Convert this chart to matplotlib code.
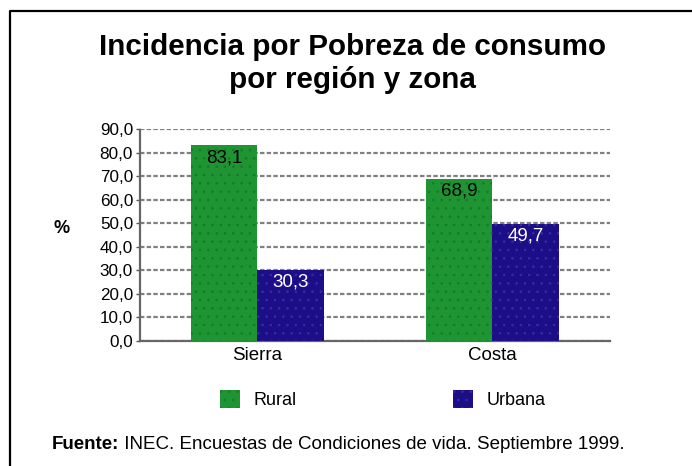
import numpy as np
import matplotlib.pyplot as plt
from matplotlib.lines import Line2D

plt.rcParams['font.family'] = ['Liberation Sans', 'DejaVu Sans']
plt.rcParams['hatch.linewidth'] = 0.6

# Datos
regiones = ["Sierra", "Costa"]
rural = [83.1, 68.9]
urbana = [30.3, 49.7]
series = ["Rural", "Urbana"]
yticks = np.arange(0, 100, 10)

verde = "#1f9433"
azul = "#1c0e86"

fig = plt.figure(figsize=(6.92, 4.66), dpi=100)
ax = fig.add_axes([0.2023, 0.2682, 0.6792, 0.455])

x = np.arange(len(regiones))
w = 0.285
b1 = ax.bar(x - w / 2, rural, w, color=verde, edgecolor="#167a28", linewidth=0,
            hatch="..", label=series[0], zorder=3)
b2 = ax.bar(x + w / 2, urbana, w, color=azul, edgecolor="#3a2aa8", linewidth=0,
            hatch="..", label=series[1], zorder=3)

# etiquetas de valores
for xi, v in zip(x - w / 2, rural):
    ax.text(xi, v - 5.3, f"{v:.1f}".replace(".", ","), ha="center", va="center",
            fontsize=13.5, color="black", zorder=4)
for xi, v in zip(x + w / 2, urbana):
    ax.text(xi, v - 5.3, f"{v:.1f}".replace(".", ","), ha="center", va="center",
            fontsize=13.5, color="white", zorder=4)

ax.set_xlim(-0.5, 1.5)
ax.set_ylim(0, 90)
ax.set_yticks(yticks)
ax.set_yticklabels([f"{t:.1f}".replace(".", ",") for t in yticks], fontsize=12.3)
ax.set_xticks(x)
ax.set_xticklabels(regiones, fontsize=13.5)
ax.tick_params(axis="x", length=0, pad=4)
ax.tick_params(axis="y", length=3, width=1, color="#555555", pad=2)

ax.yaxis.grid(True, color="#808080", linestyle=(0, (2, 1)), linewidth=1.6, zorder=0)
for s in ["top", "right"]:
    ax.spines[s].set_visible(False)
for s in ["left", "bottom"]:
    ax.spines[s].set_color("#666666")
    ax.spines[s].set_linewidth(1.6)
    ax.spines[s].set_linestyle((0, (2, 1)))

# Titulo
fig.text(0.509, 0.899, "Incidencia por Pobreza de consumo", ha="center", va="center",
         fontsize=21.3, fontweight="bold")
fig.text(0.509, 0.829, "por región y zona", ha="center", va="center",
         fontsize=21.3, fontweight="bold")

fig.text(0.089, 0.51, "%", ha="center", va="center", fontsize=13, fontweight="bold")

# Leyenda
fig.legend(handles=[b1, b2], loc="center", bbox_to_anchor=(0.553, 0.142), ncol=2,
           frameon=False, fontsize=13, handlelength=1.1, handleheight=1.1,
           handletextpad=0.72, columnspacing=8.7)

# Fuente
t = fig.text(0.075, 0.036, "Fuente:", fontsize=13.5, fontweight="bold", va="baseline")
ax.annotate(" INEC. Encuestas de Condiciones de vida. Septiembre 1999.",
            xy=(1, 0), xycoords=t, va="bottom", ha="left", fontsize=13.5,
            annotation_clip=False)

# Marco
fig.add_artist(Line2D([10 / 692, 10 / 692, 1], [0, 1 - 11 / 466, 1 - 11 / 466],
                      transform=fig.transFigure, color="black", linewidth=1.6))

fig.savefig("out.png", dpi=100)
